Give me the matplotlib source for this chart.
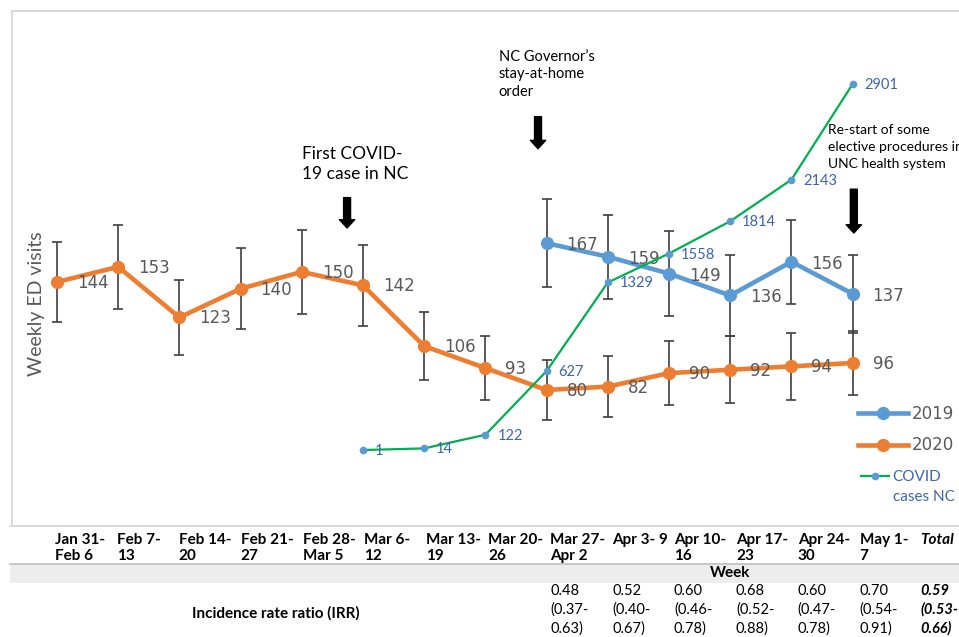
import numpy as np
import matplotlib.pyplot as plt
from matplotlib.lines import Line2D

weeks = ["Jan 31-\nFeb 6", "Feb 7-\n13", "Feb 14-\n20", "Feb 21-\n27", "Feb 28-\nMar 5",
         "Mar 6-\n12", "Mar 13-\n19", "Mar 20-\n26", "Mar 27-\nApr 2", "Apr 3- 9",
         "Apr 10-\n16", "Apr 17-\n23", "Apr 24-\n30", "May 1-\n7"]

visits_2020 = [144, 153, 123, 140, 150, 142, 106, 93, 80, 82, 90, 92, 94, 96]
err_2020 = [24, 25, 22, 24, 25, 24, 20, 19, 18, 18, 19, 20, 20, 19]

# 2019 comparison only for the last six weeks
visits_2019 = [167, 159, 149, 136, 156, 137]
err_2019 = [26, 25, 25, 24, 25, 23]

# cumulative NC cases from Mar 6 onward
covid_cases = [1, 14, 122, 627, 1329, 1558, 1814, 2143, 2901]

irr = ["0.48", "0.52", "0.60", "0.68", "0.60", "0.70"]
irr_low = ["0.37", "0.40", "0.46", "0.52", "0.47", "0.54"]
irr_high = ["0.63", "0.67", "0.78", "0.88", "0.78", "0.91"]
irr_total = ("0.59", "0.53", "0.66")

ORANGE = '#ED7D31'
BLUE = '#5B9BD5'
GREEN = '#00B050'
LABEL_BLUE = '#3C64B1'
GREY_TXT = '#595959'
BAR = '#404040'
FRAME = '#D9D9D9'

W, H = 959, 637
fig = plt.figure(figsize=(W / 100, H / 100), dpi=100)

# chart frame in pixels: left 12, top 11, bottom 526
ax = fig.add_axes([12 / W, 1 - 526 / H, (990 - 12) / W, (526 - 11) / H])
ax2 = ax.twinx()

x = np.arange(len(weeks))
x19 = x[-len(visits_2019):]
xc = x[-len(covid_cases):]

ax.errorbar(x, visits_2020, yerr=err_2020, fmt='none', ecolor=BAR,
            elinewidth=1.2, capsize=3.8, capthick=1.2, zorder=2)
ax.errorbar(x19, visits_2019, yerr=err_2019, fmt='none', ecolor=BAR,
            elinewidth=1.2, capsize=3.8, capthick=1.2, zorder=2)
ax.plot(x, visits_2020, color=ORANGE, lw=3.3, marker='o', ms=8.5, zorder=3)
ax.plot(x19, visits_2019, color=BLUE, lw=3.3, marker='o', ms=8.5, zorder=3)

for xi, v in zip(x, visits_2020):
    ax.annotate(str(v), (xi, v), xytext=(20, -1), textcoords='offset pixels',
                ha='left', va='center', fontsize=12, color=GREY_TXT)
for xi, v in zip(x19, visits_2019):
    ax.annotate(str(v), (xi, v), xytext=(20, -2), textcoords='offset pixels',
                ha='left', va='center', fontsize=12, color=GREY_TXT)

ax2.plot(xc, covid_cases, color=GREEN, lw=1.6, marker='o', ms=4.5,
         mfc=BLUE, mec=BLUE)
for xi, c in zip(xc, covid_cases):
    ax2.annotate(str(c), (xi, c), xytext=(12, -1), textcoords='offset pixels',
                 ha='left', va='center', fontsize=10.5, color=LABEL_BLUE,
                 family='Lato')

ax.set_xlim(-0.735, 15.245)
ax.set_ylim(-0.6, 304.6)
ax2.set_ylim(-601, 3480)

for a in (ax, ax2):
    a.set_xticks([])
    a.set_yticks([])
    a.spines['right'].set_visible(False)
    for side in ('left', 'top', 'bottom'):
        a.spines[side].set_color(FRAME)
        a.spines[side].set_linewidth(1.2)

ax.set_ylabel('Weekly ED visits', fontsize=14, color=GREY_TXT, family='Lato')
ax.yaxis.set_label_coords(0.0335, 0.431)

# event markers: text position, size, line spacing, arrow x and arrow span
events = [
    (4.0, 214, "First COVID-\n19 case in NC", 12.5, 1.35, 4.74, 194, 176),
    (7.22, 267, "NC Governor\u2019s\nstay-at-home\norder", 10.5, 1.35, 7.86, 242, 223),
    (12.6, 224, "Re-start of some\nelective procedures in\nUNC health system", 10, 1.5, 13.02, 199, 173),
]
for tx, ty, txt, fs, ls, axx, y0, y1 in events:
    ax.text(tx, ty, txt, fontsize=fs, family='Lato', va='center', ha='left',
            linespacing=ls, color='black')
    ax.annotate('', xy=(axx, y1), xytext=(axx, y0),
                arrowprops=dict(arrowstyle='simple,head_width=1.1,head_length=0.6,tail_width=0.5',
                                fc='black', ec='black', shrinkA=0, shrinkB=0))

year_handles = [
    Line2D([], [], color=BLUE, lw=3.3, marker='o', ms=8.5),
    Line2D([], [], color=ORANGE, lw=3.3, marker='o', ms=8.5),
]
fig.legend(year_handles, ['2019', '2020'], loc='upper left',
           bbox_to_anchor=(858 / W, 1 - 405 / H), frameon=False,
           fontsize=12, handlelength=3.0, handletextpad=0.2,
           labelspacing=0.8, borderpad=0, borderaxespad=0,
           labelcolor=GREY_TXT)
case_handle = Line2D([], [], color=GREEN, lw=1.6, marker='o', ms=4.5, mfc=BLUE, mec=BLUE)
fig.legend([case_handle], ['COVID'], loc='upper left',
           bbox_to_anchor=(861 / W, 1 - 470 / H), frameon=False,
           prop={'family': 'Lato', 'size': 11}, handlelength=1.85,
           handletextpad=0.2, borderpad=0, borderaxespad=0,
           labelcolor=LABEL_BLUE)
fig.text(893 / W, 1 - 497 / H, 'cases NC', ha='left', va='center',
         fontsize=11, family='Lato', color=LABEL_BLUE)

# table under the chart
def px(xp, yp):
    return xp / W, 1 - yp / H

fig.add_artist(plt.Rectangle(px(10, 583), (W - 10) / W, 19 / H, transform=fig.transFigure,
                             facecolor='#EDEDED', edgecolor='none'))
fig.add_artist(Line2D([10 / W, 1], [1 - 564 / H] * 2, color='#BFBFBF', lw=1.2))
fig.add_artist(Line2D([10 / W, 12 / W], [1 - 526 / H] * 2, color=FRAME, lw=1.2))

col_x = [55 + 61.9 * i for i in range(len(weeks) + 1)]
for cx, wk in zip(col_x, weeks):
    fig.text(*px(cx, 533), wk, ha='left', va='top', fontsize=11, family='Lato',
             weight='bold', linespacing=1.15)
fig.text(*px(col_x[-1] - 1, 533), 'Total', ha='left', va='top', fontsize=11,
         family='Lato', weight='bold', style='italic')
fig.text(*px(730, 573), 'Week', ha='center', va='center', fontsize=11,
         family='Lato', weight='bold')
fig.text(*px(276, 613), 'Incidence rate ratio (IRR)', ha='center', va='center',
         fontsize=11, family='Lato', weight='bold')

start = len(weeks) - len(irr)
for i, (r, lo, hi) in enumerate(zip(irr, irr_low, irr_high)):
    fig.text(*px(col_x[start + i], 584), f"{r}\n({lo}-\n{hi})", ha='left', va='top',
             fontsize=10.5, family='Lato', linespacing=1.38)
r, lo, hi = irr_total
fig.text(*px(col_x[-1] - 1, 584), f"{r}\n({lo}-\n{hi})", ha='left', va='top',
         fontsize=10.5, family='Lato', linespacing=1.38, weight='bold', style='italic')

fig.savefig('out.png', dpi=100)
